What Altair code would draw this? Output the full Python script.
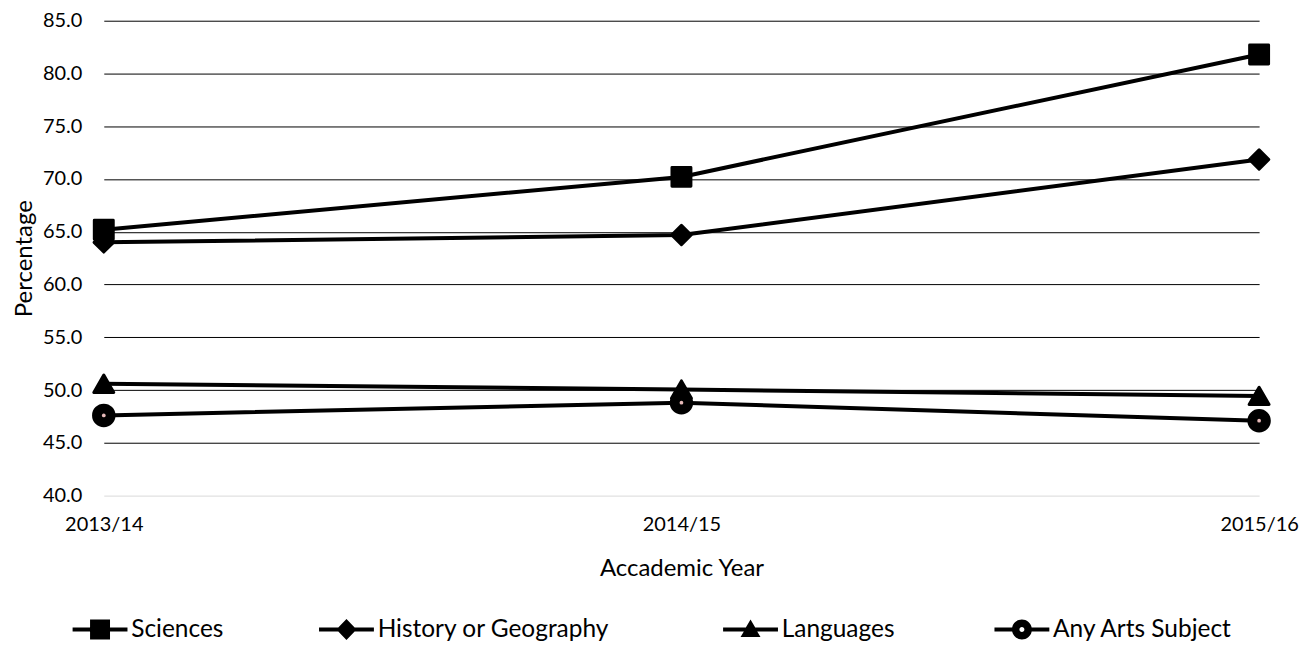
import altair as alt
import pandas as pd

years = ["2013/14", "2014/15", "2015/16"]
series_names = ["Sciences", "History or Geography", "Languages", "Any Arts Subject"]
sciences = [65.2, 70.2, 81.8]
history = [64.0, 64.7, 71.85]
languages = [50.6, 50.05, 49.45]
arts = [47.6, 48.8, 47.1]

values = {"Sciences": sciences, "History or Geography": history,
          "Languages": languages, "Any Arts Subject": arts}
rows = []
for s in series_names:
    for y, v in zip(years, values[s]):
        rows.append({"year": y, "series": s, "value": v})
df = pd.DataFrame(rows)

FONT = "Lato"
LFS = 20
TFS = 24
LEGFS = 24.5

x_enc = alt.X("year:O", sort=years, scale=alt.Scale(type="point", padding=0),
              axis=alt.Axis(title="Accademic Year", labelAngle=0, ticks=False, domain=False,
                            labelPadding=19, titlePadding=22, labelFontSize=LFS, titleFontSize=TFS,
                            titleFontWeight="normal", labelColor="#000", titleColor="#000"))
y_enc = alt.Y("value:Q", scale=alt.Scale(domain=[40, 85], nice=False, zero=False),
              axis=alt.Axis(title="Percentage", values=[40, 45, 50, 55, 60, 65, 70, 75, 80, 85],
                            format=".1f", ticks=False, domain=False, labelPadding=22,
                            titlePadding=6, labelFontSize=LFS, titleFontSize=TFS,
                            titleFontWeight="normal", labelColor="#000", titleColor="#000",
                            gridColor={"condition": {"test": "datum.value === 40", "value": "#d9d9d9"},
                                       "value": "#000000"},
                            gridWidth=1))

base = alt.Chart(df)

lines = base.mark_line(color="black", strokeWidth=4).encode(
    x=x_enc, y=y_enc, detail="series:N")

points = base.mark_point(filled=True, color="black", stroke="black", strokeWidth=3,
                         strokeJoin="round", opacity=1).encode(
    x="year:O", y="value:Q",
    shape=alt.Shape("series:N", scale=alt.Scale(domain=series_names,
                    range=["square", "diamond", "triangle-up", "circle"]), legend=None),
    size=alt.Size("series:N", scale=alt.Scale(domain=series_names, range=[360, 420, 340, 300]), legend=None))

dots = base.transform_filter(alt.datum.series == "Any Arts Subject").mark_point(
    filled=True, color="#e6b9b8", size=14, opacity=1).encode(x="year:O", y="value:Q")

p_sq = "M-2.75,-0.2L-1,-0.2L-1,-1L1,-1L1,-0.2L2.75,-0.2L2.75,0.2L1,0.2L1,1L-1,1L-1,0.2L-2.75,0.2Z"
p_di = "M-2.75,-0.2L-0.82,-0.2L0,-1.05L0.82,-0.2L2.75,-0.2L2.75,0.2L0.82,0.2L0,1.05L-0.82,0.2L-2.75,0.2Z"
p_tr = "M-2.75,-0.2L-0.47,-0.2L0,-1L0.47,-0.2L2.75,-0.2L2.75,0.2L0.67,0.2L1,0.75L-1,0.75L-0.67,0.2L-2.75,0.2Z"
p_ci = ("M-2.75,-0.2L-0.98,-0.2A1,1 0 0 1 0.98,-0.2L2.75,-0.2L2.75,0.2L0.98,0.2"
        "A1,1 0 0 1 -0.98,0.2L-2.75,0.2Z M0.25,0A0.25,0.25 0 0 0 -0.25,0A0.25,0.25 0 0 0 0.25,0Z")

def legend_layer(names, paths, lx, cpad):
    return base.transform_filter(
        alt.FieldOneOfPredicate(field="series", oneOf=names)
    ).mark_point(filled=True, color="black", opacity=0).encode(
        x="year:O", y="value:Q",
        shape=alt.Shape("series:N", scale=alt.Scale(domain=names, range=paths),
                        legend=alt.Legend(title=None, orient="none", legendX=lx, legendY=598,
                                          direction="horizontal", columns=2, gridAlign="none",
                                          symbolSize=400, symbolOpacity=1, symbolFillColor="black",
                                          symbolStrokeColor="black", symbolStrokeWidth=0.5,
                                          labelOffset=19, columnPadding=cpad, labelLimit=400,
                                          labelFontSize=LEGFS, labelFont=FONT, labelColor="#000")))

leg1 = legend_layer(["Sciences", "History or Geography"], [p_sq, p_di], -16, 94)
leg2 = legend_layer(["Languages", "Any Arts Subject"], [p_tr, p_ci], 636, 98)

chart = alt.layer(lines, points, dots, leg1, leg2).resolve_scale(shape="independent").properties(
    width=1158, height=476,
    autosize=alt.AutoSizeParams(type="none"),
    padding={"left": 96, "top": 12, "right": 46, "bottom": 151},
).configure_view(stroke=None).configure_axis(labelFont=FONT, titleFont=FONT)

chart.save("out.html", embed_options={"renderer": "svg", "actions": False})
